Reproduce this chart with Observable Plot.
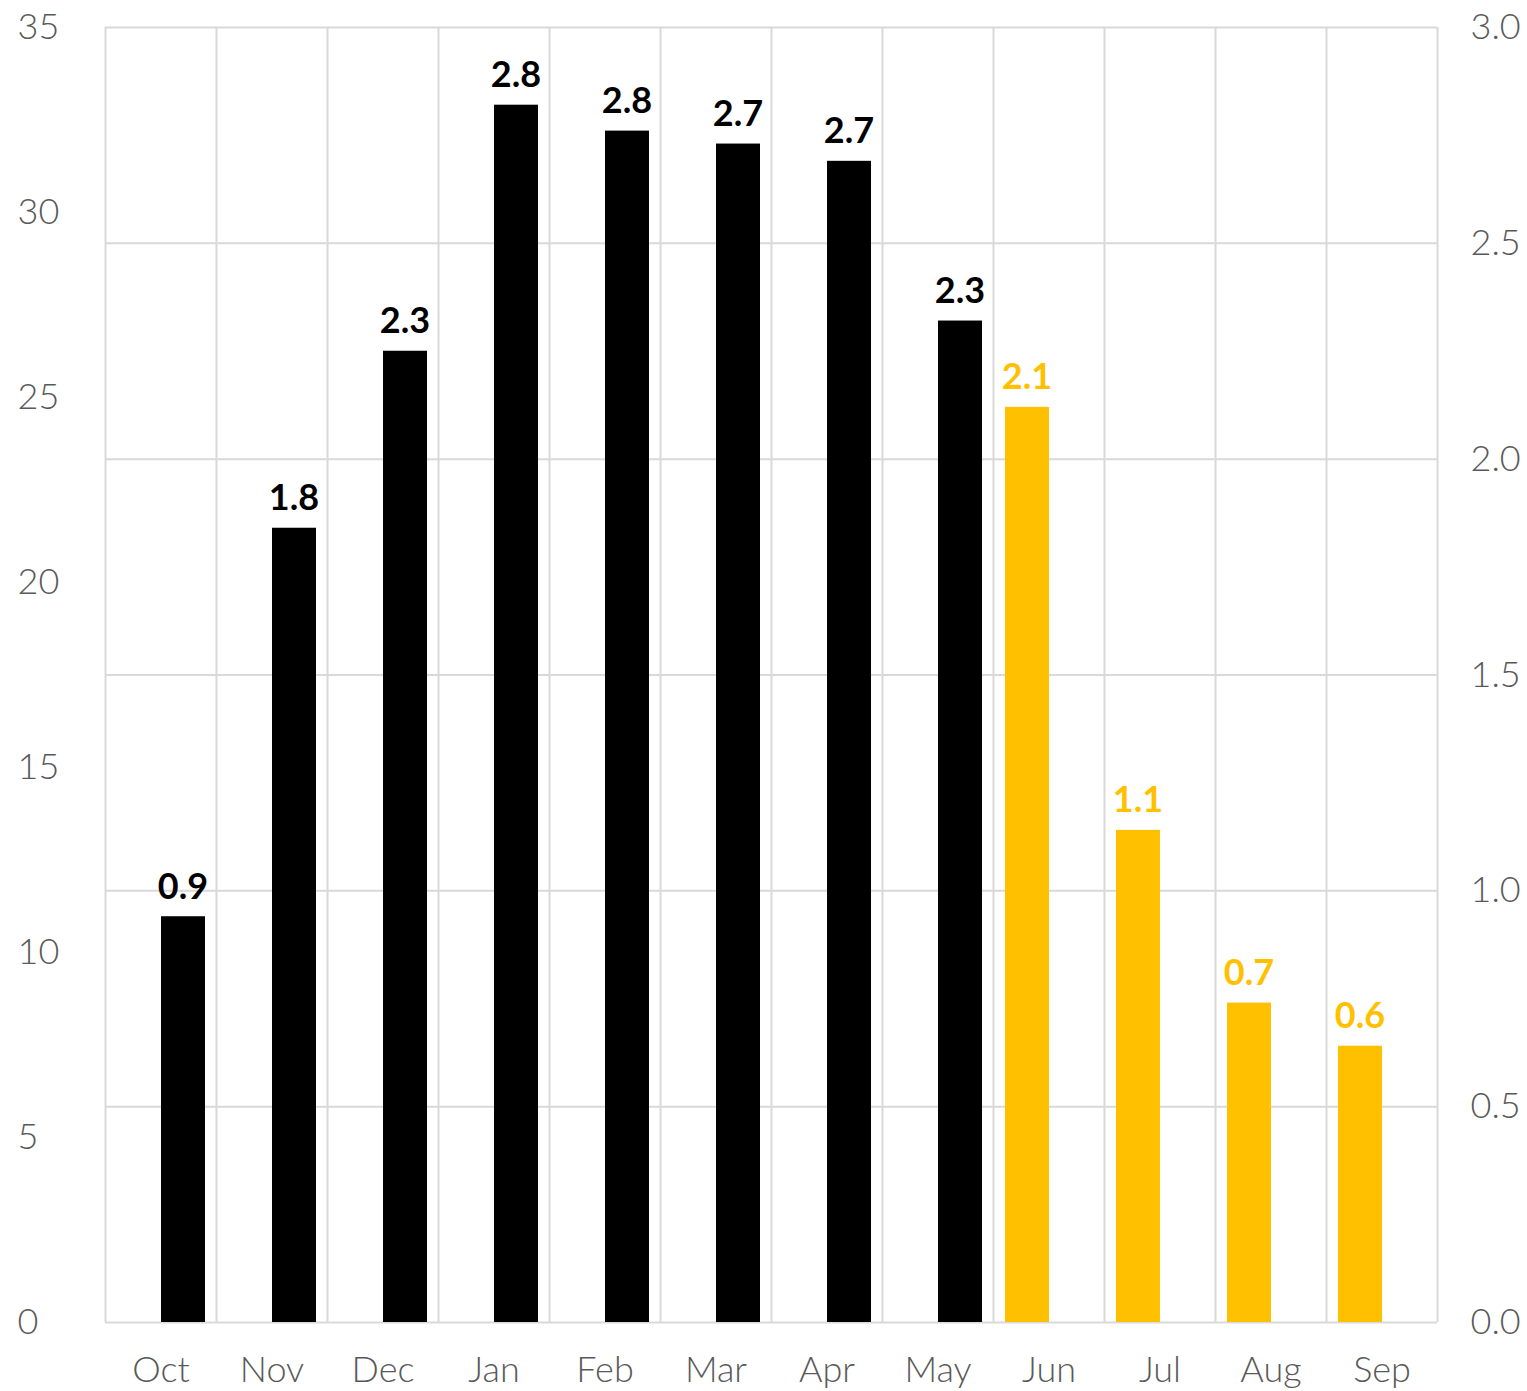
<!DOCTYPE html>
<html>
<head>
<meta charset="utf-8">
<script src="https://cdn.jsdelivr.net/npm/d3@7"></script>
<script src="https://cdn.jsdelivr.net/npm/@observablehq/plot@0.6"></script>
<style>
html, body { margin: 0; padding: 0; background: #fff; }
</style>
</head>
<body>
<div id="chart"></div>
<script>
const months = ["Oct", "Nov", "Dec", "Jan", "Feb", "Mar", "Apr", "May", "Jun", "Jul", "Aug", "Sep"];
const values = [0.94, 1.84, 2.25, 2.82, 2.76, 2.73, 2.69, 2.32, 2.12, 1.14, 0.74, 0.64];
const series = ["Actual", "Actual", "Actual", "Actual", "Actual", "Actual", "Actual", "Actual", "Forecast", "Forecast", "Forecast", "Forecast"];
const leftTicks = [0, 5, 10, 15, 20, 25, 30, 35];
const rightTicks = [0, 0.5, 1.0, 1.5, 2.0, 2.5, 3.0];
const leftMax = 35;
const rightMax = 3;

const data = months.map((m, i) => ({month: m, i, value: values[i], series: series[i]}));
const actual = data.filter(d => d.series === "Actual");
const forecast = data.filter(d => d.series === "Forecast");
const fmt = d3.format(".1f");
const gray = "#595959";
const grid = "#d9d9d9";

const chart = Plot.plot({
  width: 1527,
  height: 1391,
  marginLeft: 105,
  marginRight: 90,
  marginTop: 27,
  marginBottom: 69,
  style: {fontFamily: "Lato, 'Open Sans', sans-serif", fontSize: "36px", background: "#fff"},
  x: {axis: null, domain: [0, months.length]},
  y: {axis: null, domain: [0, rightMax]},
  marks: [
    Plot.ruleY(rightTicks, {y: d => d, stroke: grid, strokeWidth: 2}),
    Plot.ruleX(d3.range(months.length + 1), {x: d => d, stroke: grid, strokeWidth: 2}),
    Plot.rectY(actual, {x1: d => d.i, x2: d => d.i + 1, y: "value", fill: "#000000", insetLeft: 56, insetRight: 11}),
    Plot.rectY(forecast, {x1: d => d.i, x2: d => d.i + 1, y: "value", fill: "#FFC000", insetLeft: 12, insetRight: 55}),
    Plot.text(actual, {x: d => d.i + 0.5, y: "value", text: d => fmt(d.value), dx: 22, dy: -18, lineAnchor: "bottom", fill: "#000000", fontWeight: "bold", fontSize: 36}),
    Plot.text(forecast, {x: d => d.i + 0.5, y: "value", text: d => fmt(d.value), dx: -22, dy: -18, lineAnchor: "bottom", fill: "#FFC000", fontWeight: "bold", fontSize: 36}),
    Plot.text(data, {x: d => d.i + 0.5, text: "month", frameAnchor: "bottom", dy: 48, lineAnchor: "middle", fill: gray, fontWeight: 300}),
    Plot.text(leftTicks, {y: d => d * rightMax / leftMax, text: d => String(d), frameAnchor: "left", textAnchor: "start", dx: -88, fill: gray, fontWeight: 300}),
    Plot.text(rightTicks, {y: d => d, text: d => fmt(d), frameAnchor: "right", textAnchor: "start", dx: 33, fill: gray, fontWeight: 300})
  ]
});
document.getElementById("chart").appendChild(chart);
</script>
</body>
</html>
